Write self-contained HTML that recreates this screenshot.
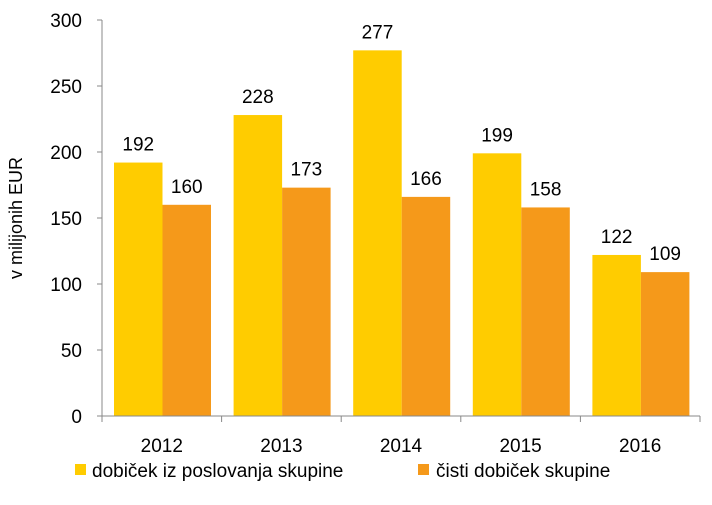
<!DOCTYPE html>
<html><head><meta charset="utf-8"><style>
body{margin:0;background:#fff;}
svg text{font-family:"Liberation Sans Narrow","Liberation Sans",sans-serif;fill:#000;}
</style></head><body>
<svg id="chart" width="712" height="500" xmlns="http://www.w3.org/2000/svg"></svg>
<script>
const categories=["2012","2013","2014","2015","2016"];
const operatingProfit=[192,228,277,199,122];
const netProfit=[160,173,166,158,109];
const yTicks=[0,50,100,150,200,250,300];
const svg=document.getElementById('chart');
const NS='http://www.w3.org/2000/svg';
const x0=102,catW=119.6,y0=416,yTop=20,yMax=300;
const y=v=>y0-(v/yMax)*(y0-yTop);
const xc=i=>x0+i*catW;
function mk(t,a,txt){const e=document.createElementNS(NS,t);for(const k in a)e.setAttribute(k,a[k]);if(txt!==undefined)e.textContent=txt;svg.appendChild(e);return e;}
// bars
categories.forEach((c,i)=>{
  const bw=48.5,off=12;
  let b=mk('rect',{x:xc(i)+off,y:y(operatingProfit[i]),width:bw,height:y0-y(operatingProfit[i]),fill:'#FFCC00'});
  
  
  let t=mk('text',{x:xc(i)+off+bw/2,y:y(operatingProfit[i])-12,'text-anchor':'middle','font-size':19},operatingProfit[i]);
  
  
  b=mk('rect',{x:xc(i)+off+bw,y:y(netProfit[i]),width:bw,height:y0-y(netProfit[i]),fill:'#F5991A'});
  
  
  t=mk('text',{x:xc(i)+off+bw*1.5,y:y(netProfit[i])-12,'text-anchor':'middle','font-size':19},netProfit[i]);
  
  
  t=mk('text',{x:xc(i)+catW/2,y:452,'text-anchor':'middle','font-size':19},c);
  
  
});
// axes
let a=mk('line',{x1:x0,y1:yTop,x2:x0,y2:y0,stroke:'#888','stroke-width':1});


a=mk('line',{x1:x0-5,y1:y0,x2:x0+catW*5,y2:y0,stroke:'#888','stroke-width':1});


for(let i=0;i<=5;i++){const l=mk('line',{x1:xc(i),y1:y0,x2:xc(i),y2:y0+6,stroke:'#888'});

}
yTicks.forEach(v=>{
  const l=mk('line',{x1:x0-5,y1:y(v),x2:x0,y2:y(v),stroke:'#888'});
  
  
  const t=mk('text',{x:82,y:y(v)+7,'text-anchor':'end','font-size':19},v);
  
  
});
let t=mk('text',{x:0,y:0,'text-anchor':'middle','font-size':18,transform:'translate(22,218) rotate(-90)'},'v milijonih  EUR');


// legend
let r=mk('rect',{x:75,y:464,width:11,height:11,fill:'#FFCC00'});


t=mk('text',{x:92,y:477,'font-size':19},'dobiček iz poslovanja skupine');


r=mk('rect',{x:418,y:464,width:11,height:11,fill:'#F5991A'});


t=mk('text',{x:436,y:477,'font-size':19},'čisti dobiček skupine');


</script>
</body></html>
